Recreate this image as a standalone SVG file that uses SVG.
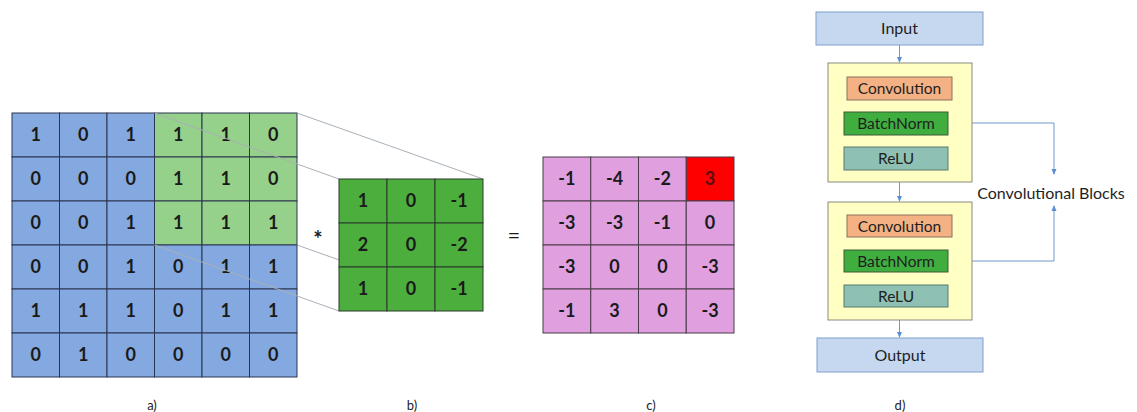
<svg xmlns="http://www.w3.org/2000/svg" width="1137" height="412" viewBox="0 0 1137 412">
<defs>
<style>
.n{font-family:Lato,"Liberation Sans",sans-serif;font-weight:bold;font-size:18px;fill:#1a1a1a;text-anchor:middle}
.cb{fill:#83a9e0;stroke:#2a3550;stroke-width:1}
.cg{fill:#95d18a;stroke:#2a3550;stroke-width:1}
.ck{fill:#4cae3c;stroke:#2a3a2a;stroke-width:1}
.cp{fill:#e0a0e0;stroke:#4a3a4a;stroke-width:1}
.cr{fill:#ff0000;stroke:#4a3a4a;stroke-width:1}
.proj{stroke:#a8b0b8;stroke-width:1;fill:none}
.lbl{font-family:Lato,"Liberation Sans",sans-serif;font-size:13px;fill:#222;text-anchor:middle}
.t{font-family:Lato,"Liberation Sans",sans-serif;font-size:16px;fill:#1e1e1e;text-anchor:middle}
.s{font-size:15.5px}
.conn{stroke:#6f98cc;stroke-width:1;fill:none}
</style>
<marker id="ah" viewBox="0 0 6 6" refX="5" refY="3" markerWidth="6" markerHeight="6" orient="auto">
<path d="M0,0.5 L6,3 L0,5.5 z" fill="#5b8fd0"/>
</marker>
</defs>
<rect width="1137" height="412" fill="#ffffff"/>

<g id="input-matrix">
<g>
<rect class="cb" x="12" y="113" width="47.5" height="44"/><rect class="cb" x="59.5" y="113" width="47.5" height="44"/><rect class="cb" x="107" y="113" width="47.5" height="44"/><rect class="cg" x="154.5" y="113" width="47.5" height="44"/><rect class="cg" x="202" y="113" width="47.5" height="44"/><rect class="cg" x="249.5" y="113" width="47.5" height="44"/>
<rect class="cb" x="12" y="157" width="47.5" height="44"/><rect class="cb" x="59.5" y="157" width="47.5" height="44"/><rect class="cb" x="107" y="157" width="47.5" height="44"/><rect class="cg" x="154.5" y="157" width="47.5" height="44"/><rect class="cg" x="202" y="157" width="47.5" height="44"/><rect class="cg" x="249.5" y="157" width="47.5" height="44"/>
<rect class="cb" x="12" y="201" width="47.5" height="44"/><rect class="cb" x="59.5" y="201" width="47.5" height="44"/><rect class="cb" x="107" y="201" width="47.5" height="44"/><rect class="cg" x="154.5" y="201" width="47.5" height="44"/><rect class="cg" x="202" y="201" width="47.5" height="44"/><rect class="cg" x="249.5" y="201" width="47.5" height="44"/>
<rect class="cb" x="12" y="245" width="47.5" height="44"/><rect class="cb" x="59.5" y="245" width="47.5" height="44"/><rect class="cb" x="107" y="245" width="47.5" height="44"/><rect class="cb" x="154.5" y="245" width="47.5" height="44"/><rect class="cb" x="202" y="245" width="47.5" height="44"/><rect class="cb" x="249.5" y="245" width="47.5" height="44"/>
<rect class="cb" x="12" y="289" width="47.5" height="44"/><rect class="cb" x="59.5" y="289" width="47.5" height="44"/><rect class="cb" x="107" y="289" width="47.5" height="44"/><rect class="cb" x="154.5" y="289" width="47.5" height="44"/><rect class="cb" x="202" y="289" width="47.5" height="44"/><rect class="cb" x="249.5" y="289" width="47.5" height="44"/>
<rect class="cb" x="12" y="333" width="47.5" height="44"/><rect class="cb" x="59.5" y="333" width="47.5" height="44"/><rect class="cb" x="107" y="333" width="47.5" height="44"/><rect class="cb" x="154.5" y="333" width="47.5" height="44"/><rect class="cb" x="202" y="333" width="47.5" height="44"/><rect class="cb" x="249.5" y="333" width="47.5" height="44"/>
</g>
<g>
<text class="n" x="35.75" y="141">1</text><text class="n" x="83.25" y="141">0</text><text class="n" x="130.75" y="141">1</text><text class="n" x="178.25" y="141">1</text><text class="n" x="225.75" y="141">1</text><text class="n" x="273.25" y="141">0</text>
<text class="n" x="35.75" y="185">0</text><text class="n" x="83.25" y="185">0</text><text class="n" x="130.75" y="185">0</text><text class="n" x="178.25" y="185">1</text><text class="n" x="225.75" y="185">1</text><text class="n" x="273.25" y="185">0</text>
<text class="n" x="35.75" y="229">0</text><text class="n" x="83.25" y="229">0</text><text class="n" x="130.75" y="229">1</text><text class="n" x="178.25" y="229">1</text><text class="n" x="225.75" y="229">1</text><text class="n" x="273.25" y="229">1</text>
<text class="n" x="35.75" y="273">0</text><text class="n" x="83.25" y="273">0</text><text class="n" x="130.75" y="273">1</text><text class="n" x="178.25" y="273">0</text><text class="n" x="225.75" y="273">1</text><text class="n" x="273.25" y="273">1</text>
<text class="n" x="35.75" y="317">1</text><text class="n" x="83.25" y="317">1</text><text class="n" x="130.75" y="317">1</text><text class="n" x="178.25" y="317">0</text><text class="n" x="225.75" y="317">1</text><text class="n" x="273.25" y="317">1</text>
<text class="n" x="35.75" y="361">0</text><text class="n" x="83.25" y="361">1</text><text class="n" x="130.75" y="361">0</text><text class="n" x="178.25" y="361">0</text><text class="n" x="225.75" y="361">0</text><text class="n" x="273.25" y="361">0</text>
</g>
</g>

<g id="projection-lines">
<line class="proj" x1="154.5" y1="113" x2="339" y2="179"/>
<line class="proj" x1="297" y1="113" x2="483" y2="179"/>
<line class="proj" x1="154.5" y1="245" x2="339" y2="311"/>
<line class="proj" x1="297" y1="245" x2="483" y2="311"/>
</g>

<text class="n" x="318" y="247" style="font-size:22px">*</text>

<g id="kernel">
<rect class="ck" x="339" y="179" width="48" height="44"/><rect class="ck" x="387" y="179" width="48" height="44"/><rect class="ck" x="435" y="179" width="48" height="44"/>
<rect class="ck" x="339" y="223" width="48" height="44"/><rect class="ck" x="387" y="223" width="48" height="44"/><rect class="ck" x="435" y="223" width="48" height="44"/>
<rect class="ck" x="339" y="267" width="48" height="44"/><rect class="ck" x="387" y="267" width="48" height="44"/><rect class="ck" x="435" y="267" width="48" height="44"/>
<text class="n" x="363" y="207">1</text><text class="n" x="411" y="207">0</text><text class="n" x="459" y="207">-1</text>
<text class="n" x="363" y="251">2</text><text class="n" x="411" y="251">0</text><text class="n" x="459" y="251">-2</text>
<text class="n" x="363" y="295">1</text><text class="n" x="411" y="295">0</text><text class="n" x="459" y="295">-1</text>
</g>

<text class="n" x="514" y="243" style="font-weight:normal;font-size:22px">=</text>

<g id="output-matrix">
<rect class="cp" x="543" y="157" width="47.75" height="44"/><rect class="cp" x="590.75" y="157" width="47.75" height="44"/><rect class="cp" x="638.5" y="157" width="47.75" height="44"/><rect class="cr" x="686.25" y="157" width="47.75" height="44"/>
<rect class="cp" x="543" y="201" width="47.75" height="44"/><rect class="cp" x="590.75" y="201" width="47.75" height="44"/><rect class="cp" x="638.5" y="201" width="47.75" height="44"/><rect class="cp" x="686.25" y="201" width="47.75" height="44"/>
<rect class="cp" x="543" y="245" width="47.75" height="44"/><rect class="cp" x="590.75" y="245" width="47.75" height="44"/><rect class="cp" x="638.5" y="245" width="47.75" height="44"/><rect class="cp" x="686.25" y="245" width="47.75" height="44"/>
<rect class="cp" x="543" y="289" width="47.75" height="44"/><rect class="cp" x="590.75" y="289" width="47.75" height="44"/><rect class="cp" x="638.5" y="289" width="47.75" height="44"/><rect class="cp" x="686.25" y="289" width="47.75" height="44"/>
<text class="n" x="566.9" y="185">-1</text><text class="n" x="614.6" y="185">-4</text><text class="n" x="662.4" y="185">-2</text><text class="n" x="710.1" y="185" style="fill:#5a1010">3</text>
<text class="n" x="566.9" y="229">-3</text><text class="n" x="614.6" y="229">-3</text><text class="n" x="662.4" y="229">-1</text><text class="n" x="710.1" y="229">0</text>
<text class="n" x="566.9" y="273">-3</text><text class="n" x="614.6" y="273">0</text><text class="n" x="662.4" y="273">0</text><text class="n" x="710.1" y="273">-3</text>
<text class="n" x="566.9" y="317">-1</text><text class="n" x="614.6" y="317">3</text><text class="n" x="662.4" y="317">0</text><text class="n" x="710.1" y="317">-3</text>
</g>

<g id="captions">
<text class="lbl" x="152" y="410">a)</text>
<text class="lbl" x="412" y="410">b)</text>
<text class="lbl" x="651" y="410">c)</text>
<text class="lbl" x="900" y="410">d)</text>
</g>

<g id="connectors">
<line class="conn" x1="899.5" y1="45" x2="899.5" y2="62" marker-end="url(#ah)"/>
<line class="conn" x1="899.5" y1="182" x2="899.5" y2="201" marker-end="url(#ah)"/>
<line class="conn" x1="899.5" y1="320" x2="899.5" y2="337" marker-end="url(#ah)"/>
<polyline class="conn" points="972,123 1054,123 1054,174" marker-end="url(#ah)"/>
<polyline class="conn" points="972,261 1054,261 1054,206" marker-end="url(#ah)"/>
</g>

<g id="input-node">
<rect x="816" y="12" width="167" height="33" fill="#c6d8f0" stroke="#7f9fcc" stroke-width="1"/>
<text class="t" x="899.5" y="34">Input</text>
</g>

<g id="conv-block-1">
<rect x="828" y="63" width="144" height="119" fill="#ffffc4" stroke="#8a8a80" stroke-width="1"/>
<g id="conv1"><rect x="847" y="77" width="105" height="23" fill="#f4b183" stroke="#8a7060" stroke-width="1"/><text class="t s" x="899.5" y="94">Convolution</text></g>
<g id="bn1"><rect x="844" y="112" width="104" height="23" fill="#3fae3f" stroke="#3a5a3a" stroke-width="1"/><text class="t s" x="896" y="129">BatchNorm</text></g>
<g id="relu1"><rect x="844" y="147" width="104" height="23" fill="#8fc0b4" stroke="#5a7a70" stroke-width="1"/><text class="t s" x="896" y="164">ReLU</text></g>
</g>

<g id="conv-block-2">
<rect x="828" y="202" width="144" height="118" fill="#ffffc4" stroke="#8a8a80" stroke-width="1"/>
<g id="conv2"><rect x="847" y="215" width="105" height="22" fill="#f4b183" stroke="#8a7060" stroke-width="1"/><text class="t s" x="899.5" y="231.5">Convolution</text></g>
<g id="bn2"><rect x="844" y="250" width="104" height="22" fill="#3fae3f" stroke="#3a5a3a" stroke-width="1"/><text class="t s" x="896" y="266.5">BatchNorm</text></g>
<g id="relu2"><rect x="844" y="285" width="104" height="22" fill="#8fc0b4" stroke="#5a7a70" stroke-width="1"/><text class="t s" x="896" y="301.5">ReLU</text></g>
</g>

<g id="output-node">
<rect x="817" y="338" width="166" height="34" fill="#c6d8f0" stroke="#7f9fcc" stroke-width="1"/>
<text class="t" x="900" y="361">Output</text>
</g>

<text class="t" x="1051" y="199">Convolutional Blocks</text>
</svg>
